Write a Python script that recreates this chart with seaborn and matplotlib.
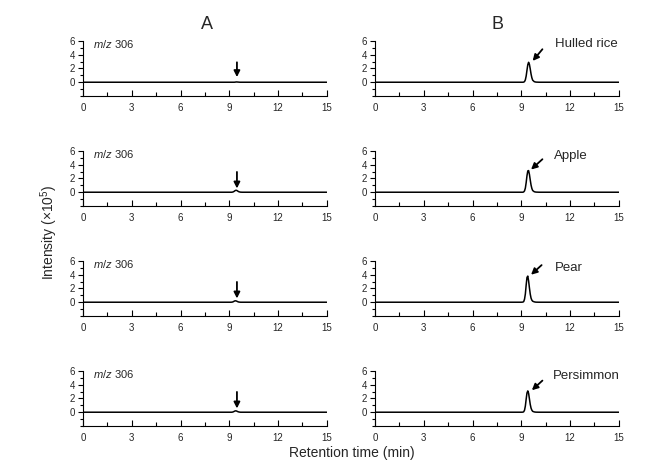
import pandas as pd
import seaborn as sns
import matplotlib.pyplot as plt
from matplotlib.ticker import MultipleLocator

# retention time grid (min) and read-off intensities (x10^5)
time = [0, 9.0, 9.1, 9.15, 9.2, 9.25, 9.3, 9.35, 9.4, 9.45, 9.5, 9.55, 9.6, 9.65, 9.7, 9.8, 9.9, 10.1, 15]

a_row1 = [0, 0, 0, 0, 0, 0, 0, 0.01, 0.03, 0.04, 0.03, 0.02, 0.01, 0, 0, 0, 0, 0, 0]
a_row2 = [0, 0, 0, 0, 0.02, 0.06, 0.13, 0.22, 0.28, 0.27, 0.2, 0.12, 0.06, 0.03, 0.01, 0, 0, 0, 0]
a_row3 = [0, 0, 0, 0.01, 0.03, 0.08, 0.15, 0.2, 0.2, 0.16, 0.1, 0.05, 0.02, 0.01, 0, 0, 0, 0, 0]
a_row4 = [0, 0, 0, 0, 0.02, 0.06, 0.12, 0.18, 0.2, 0.17, 0.11, 0.06, 0.03, 0.01, 0, 0, 0, 0, 0]

hulled_rice = [0, 0, 0, 0.02, 0.1, 0.35, 0.9, 1.75, 2.55, 2.9, 2.6, 1.95, 1.2, 0.65, 0.3, 0.08, 0.02, 0, 0]
apple = [0, 0, 0, 0.05, 0.2, 0.6, 1.4, 2.4, 3.1, 3.15, 2.6, 1.8, 1.05, 0.55, 0.25, 0.07, 0.02, 0, 0]
pear = [0, 0, 0.02, 0.1, 0.45, 1.2, 2.5, 3.6, 3.8, 3.1, 2.1, 1.2, 0.6, 0.3, 0.15, 0.05, 0.01, 0, 0]
persimmon = [0, 0, 0.01, 0.07, 0.3, 0.9, 1.9, 2.8, 3.1, 2.75, 1.95, 1.15, 0.6, 0.3, 0.13, 0.04, 0.01, 0, 0]

a_traces = [a_row1, a_row2, a_row3, a_row4]
b_traces = [hulled_rice, apple, pear, persimmon]
b_names = ["Hulled rice", "Apple", "Pear", "Persimmon"]
x_ticks = [0, 3, 6, 9, 12, 15]
y_ticks = [0, 2, 4, 6]

sns.set_style("ticks")
plt.rcParams['font.family'] = ['Liberation Sans', 'DejaVu Sans']
plt.rcParams['mathtext.fontset'] = 'custom'
plt.rcParams['mathtext.it'] = 'Liberation Sans:italic'
plt.rcParams['mathtext.rm'] = 'Liberation Sans'

fig = plt.figure(figsize=(6.45, 4.61), dpi=100)


def style_axis(ax):
    ax.set_xlim(0, 15)
    ax.set_ylim(-2, 6)
    ax.set_xticks(x_ticks)
    ax.set_yticks(y_ticks)
    ax.xaxis.set_minor_locator(MultipleLocator(1.5))
    ax.yaxis.set_minor_locator(MultipleLocator(1))
    sns.despine(ax=ax)
    for s in ["left", "bottom"]:
        ax.spines[s].set_linewidth(0.8)
        ax.spines[s].set_color("black")
    ax.tick_params(axis="x", which="both", direction="in", labelsize=7, color="black", width=0.8, pad=5)
    ax.tick_params(axis="x", which="major", length=4)
    ax.tick_params(axis="x", which="minor", length=3)
    ax.tick_params(axis="y", which="both", direction="out", labelsize=7, color="black", width=0.8, pad=2)
    ax.tick_params(axis="y", which="major", length=3.5)
    ax.tick_params(axis="y", which="minor", length=2)
    ax.set_xlabel("")
    ax.set_ylabel("")
    ax.set_facecolor("none")


def arrow(ax, head, tail):
    ax.annotate("", xy=head, xytext=tail,
                arrowprops=dict(arrowstyle="-|>", color="black", lw=1.3,
                                mutation_scale=9, shrinkA=0, shrinkB=0))


lefts = [0.1287, 0.5814]
width = 0.378
height = 0.1193
bottoms = [0.7918, 0.5532, 0.3146, 0.0760]

a_arrow = [(0.75, 2.9), (0.55, 2.95), (0.55, 2.95), (0.55, 2.95)]
b_arrow = [((9.7, 3.1), (10.3, 4.8)), ((9.6, 3.3), (10.3, 4.8)),
           ((9.6, 4.0), (10.25, 5.4)), ((9.65, 3.2), (10.3, 4.6))]
b_label = [(11.07, 5.5), (11.02, 5.2), (11.06, 5.0), (10.96, 5.3)]

for i in range(4):
    ax = fig.add_axes([lefts[0], bottoms[i], width, height])
    df = pd.DataFrame({"t": time, "y": a_traces[i]})
    sns.lineplot(data=df, x="t", y="y", ax=ax, color="black", linewidth=1.1)
    style_axis(ax)
    ax.text(0.6, 5.6, "$m/z$ 306", fontsize=8, va="center", ha="left")
    tip, tail = a_arrow[i]
    arrow(ax, (9.47, tip), (9.47, tail))

    ax = fig.add_axes([lefts[1], bottoms[i], width, height])
    df = pd.DataFrame({"t": time, "y": b_traces[i]})
    sns.lineplot(data=df, x="t", y="y", ax=ax, color="black", linewidth=1.1)
    style_axis(ax)
    head, tail = b_arrow[i]
    arrow(ax, head, tail)
    ax.text(b_label[i][0], b_label[i][1], b_names[i], fontsize=9.5, va="center", ha="left")

fig.text(0.321, 0.946, "A", fontsize=13, ha="center", va="center")
fig.text(0.771, 0.946, "B", fontsize=13, ha="center", va="center")
fig.text(0.076, 0.497, "Intensity (\u00d710$^5$)", fontsize=10, rotation=90, ha="center", va="center")
fig.text(0.546, 0.017, "Retention time (min)", fontsize=10, ha="center", va="center")

fig.savefig("out.png", dpi=100, facecolor="white")
